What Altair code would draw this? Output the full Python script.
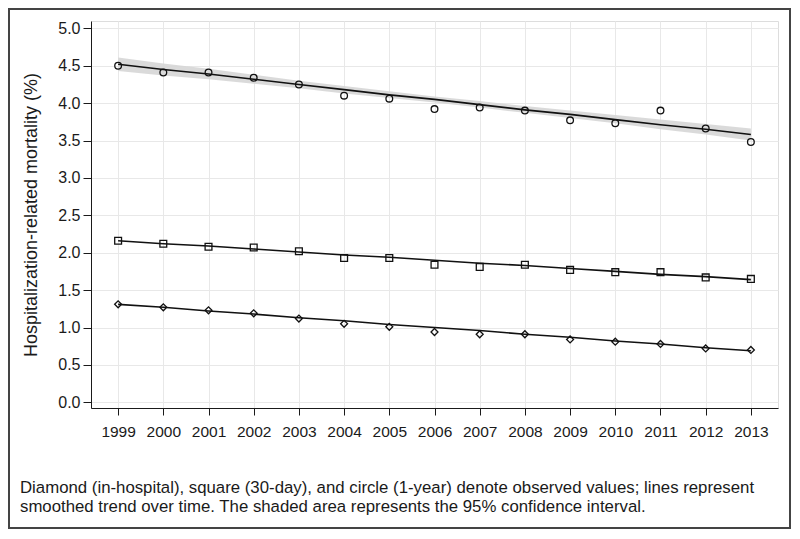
import altair as alt
import pandas as pd

years = list(range(1999, 2014))

# Observed values
one_year_obs = [4.50, 4.41, 4.41, 4.34, 4.25, 4.10, 4.06, 3.92, 3.94, 3.90, 3.77, 3.73, 3.90, 3.66, 3.48]
thirty_day_obs = [2.16, 2.12, 2.08, 2.07, 2.02, 1.93, 1.93, 1.84, 1.81, 1.84, 1.77, 1.74, 1.74, 1.67, 1.65]
in_hospital_obs = [1.31, 1.27, 1.23, 1.19, 1.12, 1.05, 1.01, 0.94, 0.91, 0.91, 0.84, 0.81, 0.78, 0.72, 0.70]

# Smoothed trends
one_year_fit = [4.52, 4.45, 4.39, 4.32, 4.25, 4.18, 4.11, 4.05, 3.98, 3.91, 3.85, 3.78, 3.71, 3.65, 3.58]
thirty_day_fit = [2.16, 2.12, 2.09, 2.05, 2.01, 1.97, 1.94, 1.90, 1.86, 1.83, 1.79, 1.75, 1.71, 1.68, 1.64]
in_hospital_fit = [1.31, 1.27, 1.22, 1.18, 1.13, 1.09, 1.04, 1.00, 0.96, 0.91, 0.87, 0.82, 0.78, 0.73, 0.69]

# 95% confidence interval (1-year)
one_year_lower = [4.43, 4.37, 4.32, 4.26, 4.20, 4.13, 4.07, 4.01, 3.94, 3.87, 3.80, 3.73, 3.65, 3.58, 3.50]
one_year_upper = [4.61, 4.53, 4.46, 4.38, 4.30, 4.23, 4.16, 4.09, 4.03, 3.96, 3.90, 3.84, 3.78, 3.72, 3.66]

series_names = ["1-year", "30-day", "in-hospital"]
series_shapes = ["circle", "square", "diamond"]

caption_lines = [
    "Diamond (in-hospital), square (30-day), and circle (1-year) denote observed values; lines represent",
    "smoothed trend over time. The shaded area represents the 95% confidence interval.",
]
y_title = "Hospitalization-related mortality (%)"
y_ticks = [0.0, 0.5, 1.0, 1.5, 2.0, 2.5, 3.0, 3.5, 4.0, 4.5, 5.0]

rows = []
for name, obs, fit in zip(series_names,
                          [one_year_obs, thirty_day_obs, in_hospital_obs],
                          [one_year_fit, thirty_day_fit, in_hospital_fit]):
    for yr, o, f in zip(years, obs, fit):
        rows.append({"year": yr, "series": name, "obs": o, "fit": f})
df = pd.DataFrame(rows)
band_df = pd.DataFrame({"year": years, "lower": one_year_lower, "upper": one_year_upper})

FONT = "Liberation Sans"
INK = "#1a1a1a"

x_scale = alt.Scale(domain=[1998.4, 2013.6], nice=False, zero=False)
y_scale = alt.Scale(domain=[-0.076, 5.098], nice=False, zero=False)

x_axis = alt.Axis(values=years, format="d", title=None, grid=True, gridColor="#e8e8e8",
                  labelFont=FONT, labelFontSize=15.5, labelColor=INK, tickColor=INK,
                  domainColor=INK, tickSize=7, labelPadding=9, labelFlush=False,
                  labelOverlap=False)
y_axis = alt.Axis(values=y_ticks, format=".1f", title=y_title,
                  grid=True, gridColor="#e8e8e8", labelFont=FONT, labelFontSize=16,
                  labelColor=INK, tickColor=INK, domainColor=INK, tickSize=8,
                  labelPadding=3, labelOverlap=False, labelFlush=False,
                  titleFont=FONT, titleFontSize=18,
                  titleFontWeight="normal", titleColor=INK, titlePadding=17)

band = alt.Chart(band_df).mark_area(color="#d6d6d6", opacity=0.9).encode(
    x=alt.X("year:Q", scale=x_scale, axis=x_axis),
    y=alt.Y("lower:Q", scale=y_scale, axis=y_axis),
    y2="upper:Q",
)

lines = alt.Chart(df).mark_line(color="#111", strokeWidth=1.6).encode(
    x=alt.X("year:Q", scale=x_scale, axis=x_axis),
    y=alt.Y("fit:Q", scale=y_scale, axis=y_axis),
    detail="series:N",
)

points = alt.Chart(df).mark_point(filled=False, color="#111", strokeWidth=1.3, opacity=1).encode(
    x=alt.X("year:Q", scale=x_scale, axis=x_axis),
    y=alt.Y("obs:Q", scale=y_scale, axis=y_axis),
    shape=alt.Shape("series:N", scale=alt.Scale(domain=series_names, range=series_shapes), legend=None),
    size=alt.Size("series:N", scale=alt.Scale(domain=series_names, range=[45, 48, 30]), legend=None),
)

one = pd.DataFrame({"k": [0]})
frame = alt.Chart(one).mark_rect(fill=None, stroke="#444", strokeWidth=2).encode(
    x=alt.value(-82), x2=alt.value(699), y=alt.value(-12), y2=alt.value(507),
)
caption = alt.Chart(one).mark_text(
    text=caption_lines, align="left", baseline="alphabetic", font=FONT, fontSize=16.8,
    lineHeight=18.5, color=INK,
).encode(x=alt.value(-71), y=alt.value(472))

chart = alt.layer(band, lines, points, frame, caption).properties(
    width=687, height=387,
    autosize=alt.AutoSizeParams(type="none"),
    padding={"left": 83, "top": 13, "right": 14, "bottom": 123},
).configure_view(stroke=INK, strokeWidth=1.5).configure(background="white").configure_axis(
    labelOverlap=False
)

chart.save("out.html", embed_options={"renderer": "svg", "actions": False})
